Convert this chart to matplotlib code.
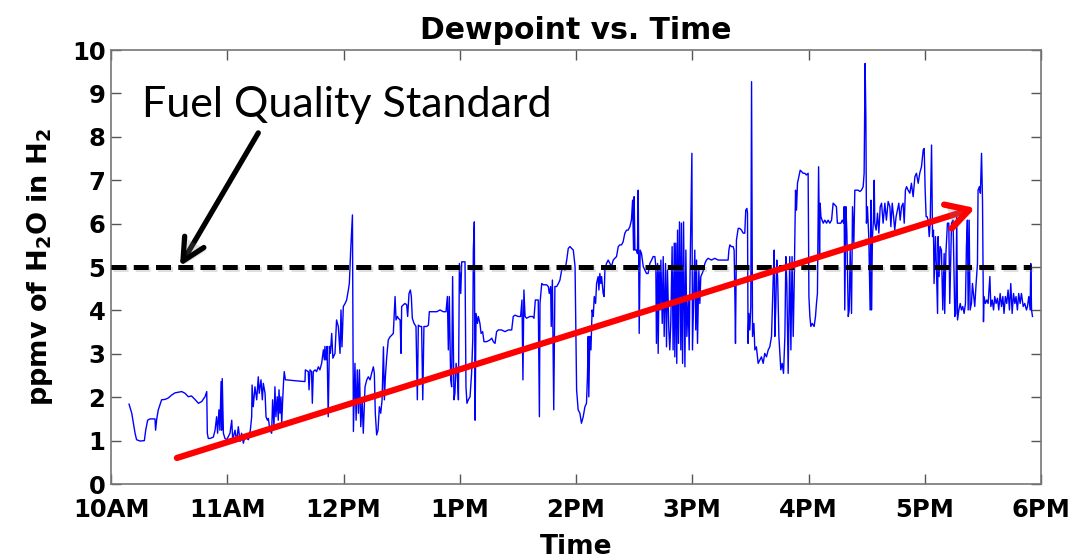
import numpy as np
import matplotlib
matplotlib.use("Agg")
import matplotlib.pyplot as plt
import matplotlib.patheffects as pe

# ---- data: time in minutes after 10AM, dewpoint in ppmv ----
seg1_t = [9.3,10.7,12.4,13.2,15,17.2,17.9,18.9,20.1,22.7,23.0,23.6,24.4,26.1,27.9,29.5,31.3,33.0,36.5,38.2,39.9,41.5,43.3,45.1,46.8,48.5,49.4,49.7,50.2,51.1,52.8,53.7,54.5,55.0,55.7,56.2,56.8,57.1,57.4,58.0,58.8,59.7,61.4,62.3,62.8,64.0,64.8,65.7,66.6,67.4,68.3,69.1,70.9,71.9,72.6,72.8,73.4,74.3,75.2,76.0,76.5,77.4,78.1,78.6,79.5,80.0,80.7,81.2,82.0,82.9,83.4,84.1,84.6,85.1,85.8,86.3,86.7,87.2,87.7,88.1,88.6,89.1,89.4,90.0,90.6,94.9,100.1,100.3,101.8,102.2,102.7,103.5,103.9,104.4,105.3,106.1,107.0,107.8,108.7,109.6,110.1,110.4,110.9,111.5,112.1,112.7,113.2,113.9,114.5,115.6,116.4,117.3]
seg1_v = [1.84,1.63,1.17,1.02,0.99,1.00,1.24,1.47,1.50,1.50,1.24,1.50,1.71,1.94,1.95,1.98,2.05,2.10,2.13,2.09,2.01,2.03,1.95,1.86,1.90,2.01,2.13,1.17,1.05,1.05,1.08,1.24,1.55,1.17,1.71,1.24,2.36,1.24,2.43,1.17,1.05,1.02,1.17,1.47,1.02,1.24,0.98,1.32,0.98,1.17,0.94,1.09,1.02,1.24,1.55,2.28,1.78,2.24,1.94,2.47,2.09,2.40,1.94,2.32,2.09,1.55,1.47,1.51,1.24,1.17,1.94,1.32,2.24,1.55,2.01,1.47,2.17,1.63,2.01,1.40,1.94,2.40,2.59,2.40,2.40,2.38,2.36,2.63,2.59,2.17,2.63,2.59,1.86,2.59,2.63,2.59,2.70,2.63,2.78,3.09,2.86,3.17,2.86,3.17,1.55,3.17,3.01,3.47,2.90,3.01,3.78,3.63]

seg2_t = [118.2,118.7,119.2,119.9,120.8,121.6,122.5,123.0,123.7,124.6,125.1,125.9,126.5,127.1,127.7,128.2,128.9,129.6,130.2,131.1,132.0,132.8,133.7,134.5,135.4,135.9,136.4,137.1,137.8,138.5,139.2,139.9,140.6,141.1,141.6,142.3,143.1,144.0,144.9,145.7,146.6,147.1,147.8,148.3,149.2,149.7,150.0,150.9,151.7,152.6,153.1,153.8,154.5,155.0,155.5,156.4,157.4,158.1,158.6,159.5,160.3,160.9,161.5,162.9,163.8,164.3,165.5,168.1,169.8,171.5,172.9,173.6,174.1,174.6,175.3,175.8,176.3,177.0,177.5,178.1,178.7,179.3,179.8,180.5,181.0,181.8,182.7,183.2,183.7,184.4,185.3,186.1,186.7,187.0,187.5,187.9,188.4,189.1,189.6,190.4,191.0,191.8,192.5,193.9,195.6,196.5,197.3,198.2,199.0,199.9,201.6,203.3,205.1,206.8,207.6,208.5,210.2,211.4,212.1,212.6,213.1,213.7,214.5,216.2,217.6,218.3,219.0,219.7,220.5,221.1,221.4,222.3,223.1,224.8,225.7,226.2,226.9,227.2,227.8,228.5,229.1,230.0,230.9,231.7,232.6,233.4,234.3,235.2,236.0,236.9,237.7,238.6,239.5,240.3]
seg2_v = [3.01,4.01,3.16,4.09,4.16,4.24,4.47,4.62,5.39,6.20,1.21,2.78,1.47,2.63,1.63,2.63,1.32,1.94,1.17,2.24,2.40,2.47,2.40,2.55,2.70,2.55,1.63,1.13,1.24,1.78,1.63,1.94,3.16,1.94,2.47,2.93,3.32,3.39,3.43,3.47,4.32,3.78,3.86,3.82,3.78,3.01,4.09,4.13,4.16,4.13,3.86,4.39,4.47,4.32,3.82,3.70,3.63,1.94,3.66,3.63,3.63,1.94,3.63,3.63,3.66,3.97,3.97,3.97,4.01,3.97,3.97,4.32,3.09,4.32,2.40,2.24,4.78,1.94,2.09,2.78,2.55,1.94,5.08,4.39,5.12,5.12,5.12,2.24,1.86,1.94,2.01,2.55,3.32,5.39,6.04,1.47,3.93,3.70,3.86,3.70,3.47,3.51,3.28,3.28,3.32,3.36,3.28,3.24,3.51,3.55,3.55,3.51,3.55,3.55,3.86,3.89,3.86,3.86,4.24,2.40,4.47,3.86,3.82,3.86,3.86,3.82,4.24,4.24,4.24,1.55,4.16,4.62,4.59,4.59,4.55,4.39,4.55,3.63,4.70,1.71,4.55,4.55,4.62,4.70,4.93,4.97,4.93,5.16,5.43,5.47,5.43,5.39,5.01,2.17]

seg3_t = [241.1,242.0,242.8,243.7,244.6,245.4,245.9,246.3,246.6,247.1,247.7,248.3,248.9,249.4,250.1,250.6,251.4,251.8,252.3,252.8,253.2,254.0,254.5,254.9,255.7,256.6,257.5,258.3,259.2,260.0,260.9,261.8,262.6,263.5,264.3,265.2,266.1,266.9,267.8,268.6,269.2,269.7,270.0,270.4,271.2,271.7,272.1,272.6,273.1,273.8,274.7,275.5,276.4,277.2,278.1,279.0,279.8,280.7,281.2,281.5,282.1,282.4,282.9,283.4,283.8,284.5,285.0,285.5,286.2,286.7,287.2,287.9,288.4,288.9,289.6,290.1,290.7,291.0,291.5,292.0,292.4,292.9,293.4,294.1,294.4,295.0,295.5,296.2,296.7,297.2,297.9,298.4,298.9,299.4,299.8,300.1,300.6,301.3,301.8,302.2,302.7,303.4,303.9,304.4,305.1,305.8,306.5,307.3,308.2,309.9,311.6,313.4,315.1,316.8,318.5,318.9,319.4,320.2,321.1,321.6,322.0,322.3,322.8,323.3,323.7,324.5,325.4,326.3,327.1,327.6,328.2,328.5,328.8,329.2,329.7,330.2,330.6,331.1,331.8,332.3,333.1,334.0,334.9,335.7,336.6,337.4,338.3,339.2,340.0,340.9,341.7,342.3,342.6,343.1,343.6,344.1,344.7,345.2,345.7,346.4,347.1,347.8,348.3,348.8,349.5,349.8,350.3,350.9,351.5,352.1,352.6,353.3,353.8,354.3,355.0,355.7,356.4,357.2,358.1,358.9,359.8]
seg3_v = [1.71,1.63,1.40,1.55,1.78,1.86,2.47,3.40,2.01,3.40,3.09,4.01,3.86,4.32,4.16,4.62,4.78,4.47,4.85,4.62,4.78,4.39,4.32,4.93,5.08,5.16,5.08,5.01,5.16,5.20,5.24,5.47,5.51,5.51,5.58,5.78,5.85,5.85,5.93,6.08,6.54,5.39,6.62,5.39,5.39,5.31,6.77,3.47,5.39,5.31,5.01,4.93,4.85,4.85,5.08,5.16,5.24,5.24,5.01,3.24,5.08,3.01,4.93,4.01,5.16,3.70,5.24,3.40,5.08,3.16,4.93,3.55,3.09,3.70,5.47,3.09,5.55,2.93,5.55,2.78,5.85,3.24,6.04,3.09,6.01,2.78,6.04,2.70,5.39,3.40,4.24,3.09,5.01,6.39,7.62,3.09,4.09,5.39,3.55,5.16,3.24,4.93,4.16,4.78,4.85,4.93,5.08,5.16,5.20,5.16,5.20,5.16,5.16,5.16,5.16,5.39,5.51,5.47,5.47,5.39,4.32,3.24,5.62,5.78,5.89,5.89,5.85,5.78,5.78,6.31,6.35,6.24,3.24,3.93,3.55,4.09,9.27,3.40,3.70,3.09,3.16,2.78,2.86,2.93,2.78,3.01,2.93,3.09,3.16,3.40,4.62,5.39,3.40,4.09,5.16,4.70,3.40,3.01,2.63,2.78,2.55,3.40,5.24,4.62,2.55,3.55,5.24,3.09,5.24,3.40,4.62,6.77,6.31,6.93,7.08,7.23,7.20,7.16,7.16,7.12,7.16]

seg4_t = [360.2,360.7,361.2,361.9,362.9,363.6,364.1,364.6,365.2,365.7,366.0,366.4,367.0,367.6,368.4,369.3,370.1,371.0,371.9,372.7,373.6,374.4,374.9,375.6,376.7,377.4,378.1,378.4,378.7,379.3,379.8,380.5,381.0,381.5,382.2,382.7,383.4,383.9,384.8,385.6,386.5,387.3,388.2,388.7,389.2,389.6,389.9,390.4,391.1,391.8,392.2,392.5,393.0,393.5,393.9,394.2,394.9,395.6,396.3,397.0,397.7,398.5,399.4,400.2,401.1,402.0,402.5,403.2,403.9,404.5,405.2,405.9,406.6,407.3,408.0,408.8,409.4,410.0,410.6,411.4,412.3,413.1,414.0,414.9,415.7,416.6,417.4,418.3,419.2,419.7,420.2,420.7,421.2,421.7,422.3,422.8,423.5,424.0,424.5,424.8,425.5,426.0,426.6,426.9,427.4,427.9,428.6,429.3,430.0,430.3,430.9,431.7,432.4,432.9,433.8,434.6,435.5,436.0,436.5,436.9,437.6,438.3,438.9,439.6,440.3,441.0,441.5,442.0,442.4,442.9,443.4,444.1,444.6,445.1,445.8,446.5,447.2,447.5,448.2,448.7,449.3,449.8,450.3,450.6,451.3,452.0,452.7,453.6,454.1,454.8,455.5,456.1,456.8,457.5,458.2,458.9,459.6,460.3,460.9,461.6,462.3,463.0,463.7,464.4,465.1,465.8,466.5,467.1,467.8,468.5,469.2,469.9,470.8,471.6,472.5,473.0,473.7,474.4,474.7,475.1,475.6]
seg4_v = [4.32,3.86,3.63,3.70,3.63,3.86,4.16,4.39,7.31,5.24,6.47,6.16,6.08,6.01,6.08,6.01,6.08,6.01,6.08,6.47,6.43,6.39,6.01,6.01,6.01,6.08,6.01,6.39,4.01,6.39,5.78,3.86,4.01,5.39,3.93,6.39,5.55,6.77,6.77,6.77,6.74,6.77,6.85,7.16,9.69,8.46,6.01,6.39,5.70,4.01,6.54,4.01,5.70,6.08,7.00,6.01,5.85,6.24,5.78,6.39,6.47,6.01,6.47,6.08,6.51,6.39,5.93,6.47,6.16,5.85,6.16,6.31,6.47,6.08,6.39,6.47,6.01,6.77,6.85,6.77,6.70,6.93,6.62,7.08,7.16,6.93,7.16,7.31,7.70,7.73,6.77,6.16,6.16,6.08,5.70,6.01,7.81,5.70,5.85,4.62,5.70,5.01,3.93,5.70,4.78,5.47,5.39,4.01,5.31,3.93,5.31,6.01,6.01,4.16,6.01,6.08,3.86,3.93,6.16,3.78,4.01,4.16,4.01,4.09,3.93,4.16,5.47,6.08,4.01,6.08,4.01,4.16,4.62,4.39,4.09,4.62,5.08,6.77,6.85,6.70,7.62,6.54,3.74,4.32,4.16,4.24,4.16,4.78,4.09,4.24,4.01,4.32,4.16,4.28,4.01,4.39,4.09,4.32,3.93,4.32,4.16,4.47,4.01,4.62,3.93,4.39,4.16,4.32,4.01,4.39,4.16,4.39,4.09,4.16,4.01,4.09,4.32,4.01,5.08,4.01,3.86]

time_min = seg1_t + seg2_t + seg3_t + seg4_t
ppmv = seg1_v + seg2_v + seg3_v + seg4_v

standard_ppmv = 5.0
tick_minutes = [0, 60, 120, 180, 240, 300, 360, 420, 480]
tick_labels = ['10AM', '11AM', '12PM', '1PM', '2PM', '3PM', '4PM', '5PM', '6PM']
trend_start = (34, 0.60)
trend_end = (446, 6.36)
note_text = 'Fuel Quality Standard'
note_xy = (16, 8.73)
note_arrow_from = (76, 8.09)
note_arrow_to = (35.6, 5.02)

# ---- figure ----
fig = plt.figure(figsize=(10.79, 5.60), dpi=100)
ax = fig.add_axes([0.1029, 0.1357, 0.8619, 0.7750])

ax.plot(time_min, ppmv, color='#0000ff', lw=1.0, zorder=2)

shadow = [pe.SimpleLineShadow(offset=(1.5, -1.5), alpha=0.25, shadow_color='gray'), pe.Normal()]
dl, = ax.plot([0, 475], [standard_ppmv, standard_ppmv], color='black', lw=3.6, zorder=3)
dl.set_dashes((3, 1.45))
dl.set_path_effects(shadow)

ann = ax.annotate('', xy=trend_end, xytext=trend_start,
                  arrowprops=dict(arrowstyle='->,head_length=1.6,head_width=0.9',
                                  color='#ff0000', lw=4.5, mutation_scale=10,
                                  shrinkA=0, shrinkB=0), zorder=4)
ann.arrow_patch.set_path_effects([pe.SimplePatchShadow(offset=(2, -2), alpha=0.25, shadow_rgbFace='gray'), pe.Normal()])

ann2 = ax.annotate('', xy=note_arrow_to, xytext=note_arrow_from,
                   arrowprops=dict(arrowstyle='->,head_length=1.6,head_width=0.8',
                                   color='black', lw=3.8, mutation_scale=10,
                                   shrinkA=0, shrinkB=0), zorder=4)
ann2.arrow_patch.set_path_effects([pe.SimplePatchShadow(offset=(2, -2), alpha=0.25, shadow_rgbFace='gray'), pe.Normal()])

ax.text(note_xy[0], note_xy[1], note_text, fontsize=31, family=['Lato', 'DejaVu Sans'],
        ha='left', va='center', color='black')

ax.set_xlim(0, 480)
ax.set_ylim(0, 10)
ax.set_xticks(tick_minutes)
ax.set_xticklabels(tick_labels)
ax.set_yticks(range(0, 11))

for lab in ax.get_xticklabels() + ax.get_yticklabels():
    lab.set_fontweight('bold')
    lab.set_fontsize(17.5)
    lab.set_family('DejaVu Sans')

ax.tick_params(direction='in', length=7, width=1, color='#555555',
               top=True, right=True, pad=4)
ax.tick_params(axis='x', pad=10)
for s in ax.spines.values():
    s.set_color('#777777')
    s.set_linewidth(1.2)

ax.set_title('Dewpoint vs. Time', fontsize=21.5, fontweight='bold', pad=8, family='DejaVu Sans')
ax.set_xlabel('Time', fontsize=19, fontweight='bold', labelpad=9, family='DejaVu Sans')
ax.set_ylabel(r'ppmv of H$_\mathbf{2}$O in H$_\mathbf{2}$', fontsize=19.5, fontweight='bold',
              labelpad=12, family='DejaVu Sans')

fig.savefig('out.png', dpi=100)
